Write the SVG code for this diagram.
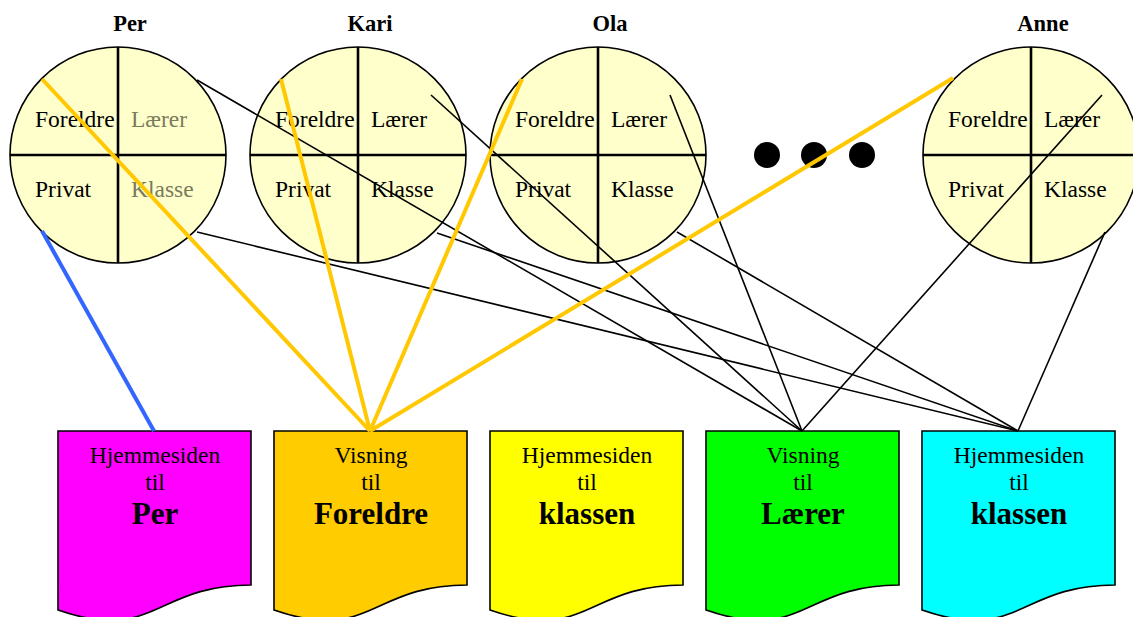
<svg xmlns="http://www.w3.org/2000/svg" width="1133" height="617" viewBox="0 0 1133 617">
<defs>
<style>
.name{font-family:"Liberation Serif","Times New Roman",serif;font-weight:bold;font-size:22.5px;text-anchor:middle;fill:#000}
.lbl{font-family:"Liberation Serif","Times New Roman",serif;font-size:23.5px;fill:#000}
.dim{fill:#7a7a5c}
.circ{fill:#FFFFCC;stroke:#000;stroke-width:1.6}
.quad{stroke:#000;stroke-width:2.6}
.doc{stroke:#000;stroke-width:1.6}
.dt{font-family:"Liberation Serif","Times New Roman",serif;font-size:23.5px;text-anchor:middle;fill:#000}
.db{font-family:"Liberation Serif","Times New Roman",serif;font-size:31px;font-weight:bold;text-anchor:middle;fill:#000}
.yl{stroke:#FFC800;stroke-width:4;fill:none}
.bl{stroke:#3366FF;stroke-width:4;fill:none}
.k{stroke:#000;stroke-width:1.6;fill:none}
</style>
</defs>
<rect width="1133" height="617" fill="#fff"/>

<g id="per">
<text class="name" x="130" y="31">Per</text>
<circle class="circ" cx="118" cy="155" r="108"/>
<line class="quad" x1="118" y1="47" x2="118" y2="263"/>
<line class="quad" x1="10" y1="155" x2="226" y2="155"/>
<text class="lbl" x="35" y="127">Foreldre</text>
<text class="lbl dim" x="131" y="127">Lærer</text>
<text class="lbl" x="35" y="197">Privat</text>
<text class="lbl dim" x="131" y="197">Klasse</text>
</g>

<g id="kari">
<text class="name" x="370" y="31">Kari</text>
<circle class="circ" cx="358" cy="155" r="108"/>
<line class="quad" x1="358" y1="47" x2="358" y2="263"/>
<line class="quad" x1="250" y1="155" x2="466" y2="155"/>
<text class="lbl" x="275" y="127">Foreldre</text>
<text class="lbl" x="371" y="127">Lærer</text>
<text class="lbl" x="275" y="197">Privat</text>
<text class="lbl" x="371" y="197">Klasse</text>
</g>

<g id="ola">
<text class="name" x="610" y="31">Ola</text>
<circle class="circ" cx="598" cy="155" r="108"/>
<line class="quad" x1="598" y1="47" x2="598" y2="263"/>
<line class="quad" x1="490" y1="155" x2="706" y2="155"/>
<text class="lbl" x="515" y="127">Foreldre</text>
<text class="lbl" x="611" y="127">Lærer</text>
<text class="lbl" x="515" y="197">Privat</text>
<text class="lbl" x="611" y="197">Klasse</text>
</g>

<g id="anne">
<text class="name" x="1043" y="31">Anne</text>
<circle class="circ" cx="1031" cy="155" r="108"/>
<line class="quad" x1="1031" y1="47" x2="1031" y2="263"/>
<line class="quad" x1="923" y1="155" x2="1139" y2="155"/>
<text class="lbl" x="948" y="127">Foreldre</text>
<text class="lbl" x="1044" y="127">Lærer</text>
<text class="lbl" x="948" y="197">Privat</text>
<text class="lbl" x="1044" y="197">Klasse</text>
</g>

<g id="dots">
<circle cx="767" cy="155" r="13" fill="#000"/>
<circle cx="814" cy="155" r="13" fill="#000"/>
<circle cx="862" cy="155" r="13" fill="#000"/>
</g>

<g id="doc-per">
<path class="doc" fill="#FF00FF" d="M58,431 H251 V585 C154.5,585 154.5,643.6 58,610 Z"/>
<text class="dt" x="155" y="463">Hjemmesiden</text>
<text class="dt" x="155" y="490">til</text>
<text class="db" x="155" y="524">Per</text>
</g>

<g id="doc-foreldre">
<path class="doc" fill="#FFCC00" d="M274,431 H467 V585 C370.5,585 370.5,643.6 274,610 Z"/>
<text class="dt" x="371" y="463">Visning</text>
<text class="dt" x="371" y="490">til</text>
<text class="db" x="371" y="524">Foreldre</text>
</g>

<g id="doc-klassen1">
<path class="doc" fill="#FFFF00" d="M490,431 H683 V585 C586.5,585 586.5,643.6 490,610 Z"/>
<text class="dt" x="587" y="463">Hjemmesiden</text>
<text class="dt" x="587" y="490">til</text>
<text class="db" x="587" y="524">klassen</text>
</g>

<g id="doc-laerer">
<path class="doc" fill="#00FF00" d="M706,431 H899 V585 C802.5,585 802.5,643.6 706,610 Z"/>
<text class="dt" x="803" y="463">Visning</text>
<text class="dt" x="803" y="490">til</text>
<text class="db" x="803" y="524">Lærer</text>
</g>

<g id="doc-klassen2">
<path class="doc" fill="#00FFFF" d="M922,431 H1115 V585 C1018.5,585 1018.5,643.6 922,610 Z"/>
<text class="dt" x="1019" y="463">Hjemmesiden</text>
<text class="dt" x="1019" y="490">til</text>
<text class="db" x="1019" y="524">klassen</text>
</g>

<g id="connectors">
<line class="k" x1="197" y1="80" x2="802" y2="431"/>
<line class="k" x1="431" y1="95" x2="802" y2="431"/>
<line class="k" x1="670" y1="95" x2="802" y2="431"/>
<line class="k" x1="1102" y1="95" x2="802" y2="431"/>
<line class="k" x1="197" y1="232" x2="1018" y2="431"/>
<line class="k" x1="437" y1="233" x2="1018" y2="431"/>
<line class="k" x1="677" y1="232" x2="1018" y2="431"/>
<line class="k" x1="1105" y1="232" x2="1018" y2="431"/>
<line class="yl" x1="42" y1="79" x2="370" y2="431"/>
<line class="yl" x1="281" y1="79" x2="370" y2="431"/>
<line class="yl" x1="522" y1="79" x2="370" y2="431"/>
<line class="yl" x1="953" y1="78" x2="370" y2="431"/>
<line class="bl" x1="42" y1="231" x2="154" y2="431"/>
</g>
</svg>
